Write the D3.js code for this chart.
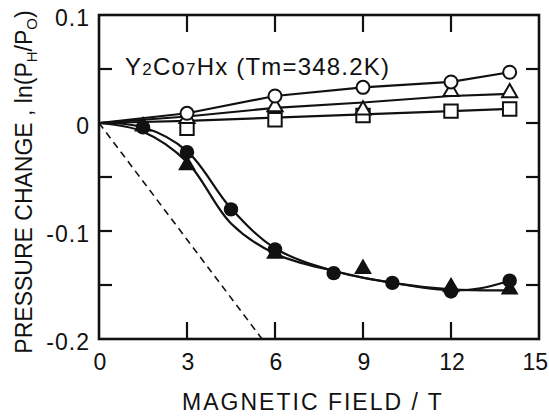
<!DOCTYPE html>
<html>
<head>
<meta charset="utf-8">
<script src="https://cdn.jsdelivr.net/npm/d3@7/dist/d3.min.js"></script>
<style>
	body { margin: 0; background: #fff; }
	text { font-family: "Liberation Sans", Arial, sans-serif; fill: #111; }
</style>
</head>
<body>
<svg id="chart" width="549" height="416"></svg>
<script>
// data
const fieldOpen = [3, 6, 9, 12, 14];
const openCircle = [0.009, 0.025, 0.033, 0.038, 0.047];
const openTriangle = [0.004, 0.015, 0.012, 0.029, 0.028];
const openSquare = [-0.005, 0.003, 0.007, 0.011, 0.013];

const fieldFilledCircle = [1.5, 3, 4.5, 6, 8, 10, 12, 14];
const filledCircle = [-0.004, -0.027, -0.080, -0.117, -0.139, -0.148, -0.156, -0.146];
const fieldFilledTriangle = [1.5, 3, 6, 9, 12, 14];
const filledTriangle = [-0.003, -0.039, -0.121, -0.135, -0.152, -0.154];

// drawn fit curves
const circleFit = [[0, 0], [3, 0.009], [6, 0.025], [9, 0.033], [12, 0.038], [14, 0.047]];
const triangleFit = [[0, 0], [3, 0.006], [6, 0.014], [9, 0.019], [12, 0.025], [14, 0.027]];
const squareFit = [[0, 0], [3, 0.002], [6, 0.005], [9, 0.008], [12, 0.011], [14, 0.013]];
const filledCircleFit = [[0, 0], [1.5, -0.004], [3, -0.026], [4.5, -0.079], [6, -0.116], [8, -0.137], [10, -0.148], [12, -0.155], [13, -0.153], [14, -0.146]];
const filledTriangleFit = [[0, 0], [1.5, -0.008], [3, -0.036], [4.5, -0.093], [6, -0.121], [8, -0.137], [10, -0.148], [12, -0.154], [14, -0.155]];
const slopeLine = [[0, 0], [5.56, -0.2]];

const xTicks = [0, 3, 6, 9, 12, 15];
const yTickLabels = [0.1, 0, -0.1, -0.2];
const yTicks = [0.05, 0, -0.05, -0.1, -0.15];
const xInner = [3, 6, 9, 12];

// layout
const svg = d3.select('#chart');
const x = d3.scaleLinear().domain([0, 15]).range([99, 539]);
const y = d3.scaleLinear().domain([-0.2, 0.1]).range([339, 15]);

const line = d3.line().x(d => x(d[0])).y(d => y(d[1]));
const smooth = d3.line().x(d => x(d[0])).y(d => y(d[1])).curve(d3.curveCatmullRom.alpha(0.5));

// frame
svg.append('rect')
	.attr('x', x(0)).attr('y', y(0.1))
	.attr('width', x(15) - x(0)).attr('height', y(-0.2) - y(0.1))
	.attr('fill', 'none').attr('stroke', '#111').attr('stroke-width', 2.6);

// inward ticks
const ticks = svg.append('g').attr('stroke', '#111').attr('stroke-width', 2.2);
xInner.forEach(v => {
	ticks.append('line').attr('x1', x(v)).attr('x2', x(v)).attr('y1', y(-0.2)).attr('y2', y(-0.2) - 17);
	ticks.append('line').attr('x1', x(v)).attr('x2', x(v)).attr('y1', y(0.1)).attr('y2', y(0.1) + 17);
});
yTicks.forEach(v => {
	ticks.append('line').attr('x1', x(0)).attr('x2', x(0) + 13).attr('y1', y(v)).attr('y2', y(v));
	ticks.append('line').attr('x1', x(15)).attr('x2', x(15) - 13).attr('y1', y(v)).attr('y2', y(v));
});

// tick labels (last one kept inside the page edge)
svg.append('g').selectAll('text').data(xTicks).join('text')
	.attr('x', d => d === 15 ? 548 : x(d) + 1).attr('y', 370)
	.attr('text-anchor', d => d === 15 ? 'end' : 'middle').attr('font-size', 23)
	.text(d => d);

svg.append('g').selectAll('text').data(yTickLabels).join('text')
	.attr('x', 90).attr('y', d => y(d) + 11)
	.attr('text-anchor', 'end').attr('font-size', 23).attr('letter-spacing', 1)
	.text(d => d === 0 ? '0' : (d < 0 ? '-' : '') + Math.abs(d));

// axis titles
svg.append('text')
	.attr('x', 313).attr('y', 410)
	.attr('text-anchor', 'middle').attr('font-size', 23).attr('letter-spacing', 2)
	.text('MAGNETIC FIELD / T');

const yTitle = svg.append('text')
	.attr('transform', 'translate(32,182) rotate(-90)')
	.attr('text-anchor', 'middle').attr('font-size', 23);
yTitle.append('tspan').text('PRESSURE CHANGE , ln(P');
yTitle.append('tspan').attr('font-size', 15).attr('dy', 5).text('H');
yTitle.append('tspan').attr('dy', -5).text('/P');
yTitle.append('tspan').attr('font-size', 15).attr('dy', 5).text('O');
yTitle.append('tspan').attr('dy', -5).text(')');

// annotation
const note = svg.append('text')
	.attr('x', 125).attr('y', 75).attr('font-size', 24).attr('letter-spacing', 1.2);
note.append('tspan').text('Y');
note.append('tspan').attr('font-size', 17).text('2');
note.append('tspan').text('Co');
note.append('tspan').attr('font-size', 17).text('7');
note.append('tspan').text('Hx (Tm=348.2K)');

// dashed reference line
svg.append('path').datum(slopeLine)
	.attr('d', line).attr('fill', 'none')
	.attr('stroke', '#111').attr('stroke-width', 1.6).attr('stroke-dasharray', '7,5');

// fit curves
const curves = svg.append('g').attr('fill', 'none').attr('stroke', '#111').attr('stroke-width', 2.2);
[circleFit, triangleFit, squareFit].forEach(c => curves.append('path').datum(c).attr('d', line));
[filledCircleFit, filledTriangleFit].forEach(c => curves.append('path').datum(c).attr('d', smooth));

// markers
const tri = d3.symbol().type(d3.symbolTriangle).size(100);
const sq = d3.symbol().type(d3.symbolSquare).size(180);

const marks = svg.append('g');
marks.selectAll('.osq').data(fieldOpen).join('path')
	.attr('transform', (d, i) => `translate(${x(d)},${y(openSquare[i])})`)
	.attr('d', sq).attr('fill', '#fff').attr('stroke', '#111').attr('stroke-width', 2);
marks.selectAll('.otri').data(fieldOpen).join('path')
	.attr('transform', (d, i) => `translate(${x(d)},${y(openTriangle[i])})`)
	.attr('d', tri).attr('fill', '#fff').attr('stroke', '#111').attr('stroke-width', 2);
marks.selectAll('.ocirc').data(fieldOpen).join('circle')
	.attr('cx', d => x(d)).attr('cy', (d, i) => y(openCircle[i])).attr('r', 6.5)
	.attr('fill', '#fff').attr('stroke', '#111').attr('stroke-width', 2);

marks.selectAll('.ftri').data(fieldFilledTriangle).join('path')
	.attr('transform', (d, i) => `translate(${x(d)},${y(filledTriangle[i])})`)
	.attr('d', tri).attr('fill', '#111').attr('stroke', '#111').attr('stroke-width', 1.5);
marks.selectAll('.fcirc').data(fieldFilledCircle).join('circle')
	.attr('cx', d => x(d)).attr('cy', (d, i) => y(filledCircle[i])).attr('r', 7.2)
	.attr('fill', '#111');
</script>
</body>
</html>
